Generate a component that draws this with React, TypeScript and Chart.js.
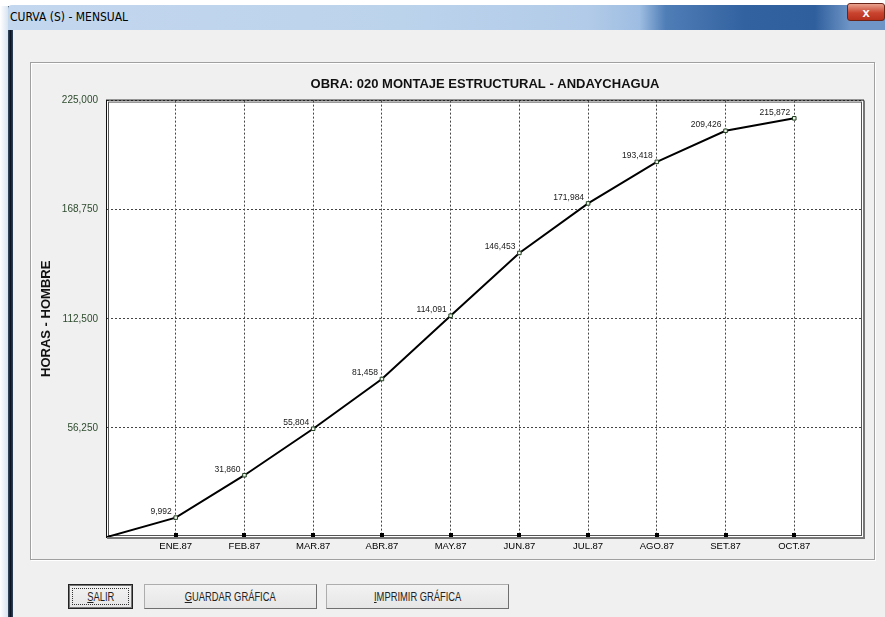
import React, { useEffect, useRef } from 'react';
import { Chart, registerables } from 'chart.js';

Chart.register(...registerables);

// ---- data ----
const monthLabels = ['ENE.87', 'FEB.87', 'MAR.87', 'ABR.87', 'MAY.87', 'JUN.87', 'JUL.87', 'AGO.87', 'SET.87', 'OCT.87'];
const cumulativeHours = [9992, 31860, 55804, 81458, 114091, 146453, 171984, 193418, 209426, 215872];
const startValue = 0;
const yTickValues = [0, 56250, 112500, 168750, 225000];
const chartTitle = 'OBRA: 020 MONTAJE ESTRUCTURAL - ANDAYCHAGUA';
const yAxisTitle = 'HORAS - HOMBRE';
const windowTitle = 'CURVA (S) - MENSUAL';

const FONT = '"Liberation Sans", Arial, sans-serif';
const NARROW = '"Liberation Sans Narrow", "DejaVu Sans Condensed", "Liberation Sans", Arial, sans-serif';

const plotBackground = {
  id: 'plotBackground',
  beforeDraw(chart: any) {
    const { ctx, chartArea: a } = chart;
    ctx.save();
    ctx.fillStyle = '#ffffff';
    ctx.fillRect(a.left, a.top, a.right - a.left, a.bottom - a.top);
    ctx.restore();
  },
};

const plotFrame = {
  id: 'plotFrame',
  beforeDatasetsDraw(chart: any) {
    const { ctx, chartArea: a } = chart;
    ctx.save();
    ctx.strokeStyle = '#111';
    ctx.lineWidth = 1;
    ctx.strokeRect(a.left - 0.5, a.top - 0.5, a.right - a.left + 1, a.bottom - a.top + 1);
    ctx.strokeStyle = '#555';
    ctx.strokeRect(a.left + 1.5, a.top + 1.5, a.right - a.left - 3, a.bottom - a.top - 3);
    ctx.strokeStyle = '#777';
    ctx.lineWidth = 2;
    ctx.beginPath();
    ctx.moveTo(a.left, a.bottom + 1);
    ctx.lineTo(a.right + 1, a.bottom + 1);
    ctx.lineTo(a.right + 1, a.top);
    ctx.stroke();
    const xs = chart.scales.x;
    ctx.fillStyle = '#000';
    xs.ticks.forEach((t: any) => {
      const px = xs.getPixelForValue(t.value);
      ctx.fillRect(Math.round(px) - 2, a.bottom - 4, 4, 4);
    });
    ctx.restore();
  },
};

const valueLabels = {
  id: 'valueLabels',
  afterDatasetsDraw(chart: any) {
    const { ctx } = chart;
    const meta = chart.getDatasetMeta(0);
    const data = chart.data.datasets[0].data as any[];
    ctx.save();
    ctx.font = `8.5px ${FONT}`;
    ctx.fillStyle = '#1a1a1a';
    ctx.textAlign = 'right';
    ctx.textBaseline = 'middle';
    meta.data.forEach((el: any, i: number) => {
      if (i === 0) return;
      const v = data[i].y as number;
      ctx.fillText(v.toLocaleString('en-US'), el.x - 4, el.y - 6);
    });
    ctx.restore();
  },
};

function CurveChart() {
  const ref = useRef<HTMLCanvasElement | null>(null);
  useEffect(() => {
    if (!ref.current) return;
    const points = [{ x: 0, y: startValue }, ...cumulativeHours.map((v, i) => ({ x: i + 1, y: v }))];
    const chart = new Chart(ref.current, {
      type: 'line',
      data: {
        datasets: [
          {
            data: points,
            borderColor: '#000',
            borderWidth: 2,
            tension: 0,
            pointStyle: 'rect',
            pointRadius: (c: any) => (c.dataIndex === 0 ? 0 : 2.5),
            pointHoverRadius: (c: any) => (c.dataIndex === 0 ? 0 : 2.5),
            pointBorderColor: '#1f3d1f',
            pointBackgroundColor: '#eef4e8',
            pointBorderWidth: 1,
            fill: false,
          },
        ],
      },
      options: {
        animation: false,
        responsive: true,
        maintainAspectRatio: false,
        events: [],
        layout: { padding: { left: 0, top: 0, right: 12, bottom: 0 } },
        plugins: {
          legend: { display: false },
          tooltip: { enabled: false },
          title: {
            display: true,
            text: chartTitle,
            fullSize: false,
            color: '#111',
            font: { family: FONT, size: 13, weight: 'bold' },
            padding: { top: 15, bottom: 8 },
          },
        },
        scales: {
          x: {
            type: 'linear',
            min: 0,
            max: monthLabels.length + 1,
            afterBuildTicks: (s: any) => {
              s.ticks = monthLabels.map((_, i) => ({ value: i + 1 }));
            },
            afterFit: (s: any) => {
              s.height = 23;
            },
            ticks: {
              autoSkip: false,
              maxRotation: 0,
              padding: 4,
              color: '#000',
              font: { family: FONT, size: 9.5 },
              callback: (v: any) => monthLabels[Number(v) - 1] ?? '',
            },
            grid: { color: '#444', lineWidth: 1, drawTicks: false },
            border: { display: false, dash: [2, 2] },
          },
          y: {
            type: 'linear',
            min: yTickValues[0],
            max: yTickValues[yTickValues.length - 1],
            afterBuildTicks: (s: any) => {
              s.ticks = yTickValues.map((v) => ({ value: v }));
            },
            afterFit: (s: any) => {
              s.width = 77;
            },
            ticks: {
              padding: 9,
              color: '#2d4a2d',
              font: { family: FONT, size: 10 },
              callback: (v: any) => (Number(v) === 0 ? '' : Number(v).toLocaleString('en-US')),
            },
            grid: { color: '#444', lineWidth: 1, drawTicks: false },
            border: { display: false, dash: [2, 2] },
            title: {
              display: true,
              text: yAxisTitle,
              color: '#111',
              font: { family: FONT, size: 13, weight: 'bold' },
              padding: { top: 9, bottom: 0 },
            },
          },
        },
      } as any,
      plugins: [plotBackground, plotFrame, valueLabels],
    });
    return () => chart.destroy();
  }, []);
  return <canvas ref={ref} />;
}

function WinButton({ left, width, mnemonic, rest, isDefault }: { left: number; width: number; mnemonic: string; rest: string; isDefault?: boolean }) {
  return (
    <div
      style={{
        position: 'absolute',
        left,
        top: 584,
        width,
        height: 25,
        boxSizing: 'border-box',
        background: 'linear-gradient(#f2f2f2, #e6e6e6)',
        border: isDefault ? '1px solid #222' : '1px solid #adadad',
        borderRightColor: isDefault ? '#222' : '#6f6f6f',
        borderBottomColor: isDefault ? '#222' : '#6f6f6f',
        boxShadow: isDefault ? 'inset 0 0 0 1px #777' : 'none',
        display: 'flex',
        alignItems: 'center',
        justifyContent: 'center',
        fontFamily: FONT,
        fontSize: 13,
        color: '#222',
      }}
    >
      {isDefault && (
        <div style={{ position: 'absolute', left: 3, top: 3, right: 3, bottom: 3, border: '1px dotted #333' }} />
      )}
      <span style={{ display: 'inline-block', transform: 'scaleX(0.72)', whiteSpace: 'nowrap' }}>
        <span style={{ textDecoration: 'underline' }}>{mnemonic}</span>
        {rest}
      </span>
    </div>
  );
}

export default function App() {
  return (
    <div
      style={{
        position: 'fixed',
        left: 0,
        top: 0,
        width: 885,
        height: 617,
        background: '#ffffff',
        overflow: 'hidden',
        fontFamily: FONT,
      }}
    >
      <div style={{ position: 'absolute', left: 0, top: 6, width: 8, height: 611, background: 'linear-gradient(to right, #ffffff, #d8e4f0)' }} />
      <div style={{ position: 'absolute', left: 8, top: 6, width: 5, height: 611, background: 'linear-gradient(to right, #3a4f66, #0b1420 50%, #31475f)' }} />
      <div
        style={{
          position: 'absolute',
          left: 8,
          top: 5,
          width: 877,
          height: 25,
          background:
            'linear-gradient(to right, #c3d7ee 0%, #bcd3ec 45%, #b2cbe8 66%, #9ebde2 72%, #4f7db6 75%, #3262a0 84%, #2f5f9d 92%, #6f95c6 96%)',
          borderTopLeftRadius: 4,
        }}
      />
      <div style={{ position: 'absolute', left: 10, top: 10, fontFamily: NARROW, fontSize: 12, color: '#000' }}>{windowTitle}</div>
      <div
        style={{
          position: 'absolute',
          left: 847,
          top: 3,
          width: 38,
          height: 18,
          boxSizing: 'border-box',
          background: 'linear-gradient(#e9a38f, #c9442f 55%, #b8301c)',
          border: '1px solid #6b2418',
          borderRadius: 3,
          color: '#fff',
          fontFamily: FONT,
          fontWeight: 'bold',
          fontSize: 13,
          display: 'flex',
          alignItems: 'center',
          justifyContent: 'center',
        }}
      >
        x
      </div>
      <div style={{ position: 'absolute', left: 13, top: 30, width: 872, height: 587, background: '#f0f0f0' }} />
      <div
        style={{
          position: 'absolute',
          left: 30,
          top: 62,
          width: 845,
          height: 498,
          boxSizing: 'border-box',
          border: '1px solid #a0a0a0',
          boxShadow: 'inset 1px 1px 0 #ffffff, 1px 1px 0 #ffffff',
          background: '#f0f0f0',
        }}
      />
      <div style={{ position: 'absolute', left: 30, top: 62, width: 845, height: 498 }}>
        <CurveChart />
      </div>
      <WinButton left={68} width={65} mnemonic="S" rest="ALIR" isDefault />
      <WinButton left={144} width={173} mnemonic="G" rest="UARDAR GRÁFICA" />
      <WinButton left={326} width={183} mnemonic="I" rest="MPRIMIR GRÁFICA" />
    </div>
  );
}
